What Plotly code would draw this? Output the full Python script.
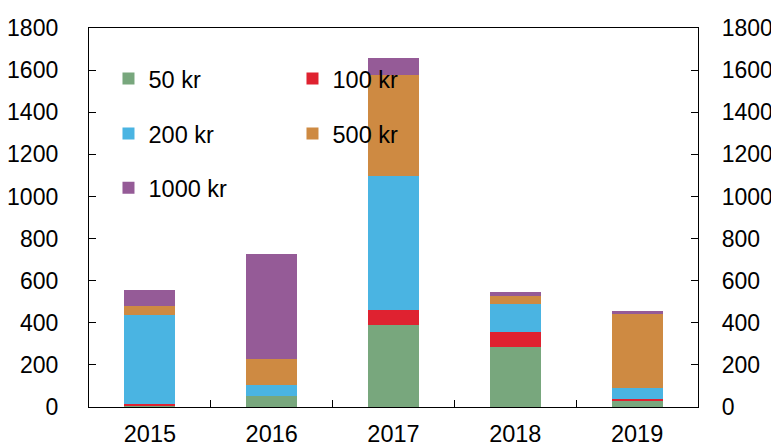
import plotly.graph_objects as go

years = ["2015", "2016", "2017", "2018", "2019"]
kr50 = [8, 54, 390, 286, 29]
kr100 = [6, 0, 69, 68, 8]
kr200 = [421, 49, 636, 135, 55]
kr500 = [46, 124, 483, 36, 349]
kr1000 = [76, 502, 79, 23, 13]

series = [
    ("50 kr", kr50, "#78A77D", "legend"),
    ("100 kr", kr100, "#DF2230", "legend"),
    ("200 kr", kr200, "#4AB4E2", "legend2"),
    ("500 kr", kr500, "#CE8A42", "legend2"),
    ("1000 kr", kr1000, "#955B97", "legend3"),
]

FONT = "Liberation Sans, Arial, sans-serif"
FS = 23
fig = go.Figure()
for name, vals, color, lg in series:
    fig.add_trace(go.Bar(x=years, y=vals, name=name, marker_color=color,
                         marker_line_width=0, legend=lg))

# invisible trace for the right axis
fig.add_trace(go.Scatter(x=years, y=[0] * len(years), yaxis="y2", mode="markers",
                         marker=dict(opacity=0), showlegend=False, hoverinfo="skip"))

axis_common = dict(range=[0, 1800], dtick=200, ticks="inside", ticklen=7,
                   tickcolor="black", showline=True, linecolor="black", linewidth=1.3,
                   showgrid=False, zeroline=False, automargin=False,
                   tickfont=dict(family=FONT, size=FS, color="black"))

legend_common = dict(orientation="h", entrywidth=139, entrywidthmode="pixels",
                     x=0.032, xanchor="left", yanchor="middle", traceorder="normal",
                     bgcolor="rgba(0,0,0,0)", font=dict(family=FONT, size=23.5, color="black"),
                     itemclick=False)

# page body adds an 8px offset, so the figure is 8px smaller than the window
fig.update_layout(
    width=771, height=440,
    margin=dict(l=81, r=81, t=20, b=41),
    paper_bgcolor="white", plot_bgcolor="white",
    barmode="stack", bargap=0.58,
    font=dict(family=FONT, size=FS, color="black"),
    xaxis=dict(type="category", ticks="inside", ticklen=7, tickcolor="black",
               tickson="boundaries", showline=True, linecolor="black", linewidth=1.3,
               mirror=True, showgrid=False, automargin=False,
               tickfont=dict(family=FONT, size=23.5, color="black"), ticklabelstandoff=6),
    yaxis=dict(**axis_common, ticklabelstandoff=25),
    yaxis2=dict(**axis_common, overlaying="y", side="right", ticklabelstandoff=18),
    legend=dict(**legend_common, y=0.866),
    legend2=dict(**legend_common, y=0.721),
    legend3=dict(**legend_common, y=0.578),
    showlegend=True,
)

fig.write_html("out.html")
